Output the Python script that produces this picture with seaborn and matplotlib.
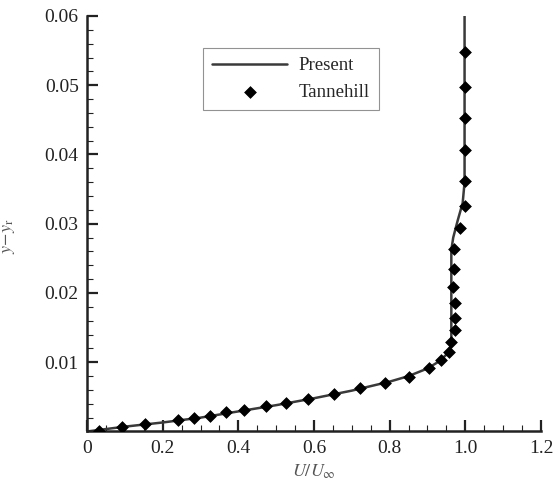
import numpy as np
import pandas as pd
import matplotlib
matplotlib.use('Agg')
import matplotlib.pyplot as plt
import seaborn as sns
from matplotlib.ticker import MultipleLocator, FixedLocator

# Present (solid line)
present_u = [0.0, 0.1, 0.2, 0.3, 0.4, 0.5, 0.6, 0.7, 0.8, 0.85, 0.9, 0.93,
             0.95, 0.96, 0.963, 0.963, 0.963, 0.968, 0.98, 0.993, 0.998, 0.998, 0.998]
present_y = [0.0, 0.0007, 0.0013, 0.0020, 0.0029, 0.0038, 0.0048, 0.0059, 0.0072,
             0.0080, 0.0091, 0.0101, 0.0111, 0.0121, 0.0135, 0.0200, 0.0262,
             0.0280, 0.0305, 0.0330, 0.0360, 0.0450, 0.0600]

# Tannehill (diamonds)
tann_u = [0.032, 0.093, 0.154, 0.241, 0.283, 0.326, 0.368, 0.416, 0.474, 0.525,
          0.585, 0.652, 0.721, 0.787, 0.850, 0.903, 0.935, 0.956, 0.962, 0.972,
          0.972, 0.972, 0.967, 0.970, 0.970, 0.985, 0.999, 0.999, 0.999, 0.999,
          0.999, 0.999]
tann_y = [0.0001, 0.00065, 0.0011, 0.0017, 0.0019, 0.0022, 0.0028, 0.0031, 0.0037,
          0.0041, 0.0047, 0.0054, 0.0063, 0.0070, 0.0079, 0.0092, 0.0103, 0.0115,
          0.0129, 0.0147, 0.0164, 0.0186, 0.0209, 0.0234, 0.0264, 0.0294, 0.0326,
          0.0362, 0.0406, 0.0452, 0.0497, 0.0548]

present = pd.DataFrame({'u': present_u, 'y': present_y})
tann = pd.DataFrame({'u': tann_u, 'y': tann_y})

sns.set_style('ticks')
plt.rcParams['font.family'] = ['Liberation Serif', 'DejaVu Serif']
plt.rcParams['mathtext.fontset'] = 'stix'

fig = plt.figure(figsize=(5.58, 4.84), dpi=100)
ax = fig.add_axes([0.156, 0.1085, 0.8135, 0.8585])

sns.lineplot(data=present, x='u', y='y', sort=False, estimator=None, color='#3a3a3a',
             linewidth=1.8, ax=ax, label='Present')
sns.scatterplot(data=tann, x='u', y='y', marker='D', color='black', s=36,
                edgecolor='black', linewidth=0.5, ax=ax, label='Tannehill', zorder=3)

ax.set_xlim(0, 1.2)
ax.set_ylim(0, 0.06)
ax.xaxis.set_major_locator(FixedLocator([0, 0.2, 0.4, 0.6, 0.8, 1.0, 1.2]))
ax.set_xticklabels(['0', '0.2', '0.4', '0.6', '0.8', '1.0', '1.2'])
ax.xaxis.set_minor_locator(MultipleLocator(0.05))
ax.yaxis.set_major_locator(FixedLocator([0.01, 0.02, 0.03, 0.04, 0.05, 0.06]))
ax.set_yticklabels(['0.01', '0.02', '0.03', '0.04', '0.05', '0.06'])
ax.yaxis.set_minor_locator(MultipleLocator(0.002))

ax.tick_params(which='major', direction='in', length=8, width=1.6, labelsize=14,
               colors='#222222', pad=6)
ax.tick_params(which='minor', direction='in', length=4, width=0.8, colors='#222222')

for s in ['top', 'right']:
    ax.spines[s].set_visible(False)
for s in ['left', 'bottom']:
    ax.spines[s].set_linewidth(1.8)
    ax.spines[s].set_color('#222222')

ax.set_xlabel('$U/U_{\\infty}$', fontsize=13, color='#555555', labelpad=4)
ax.set_ylabel('$y\\!-\\!y_{\\mathrm{r}}$', fontsize=13, color='#555555', labelpad=10)
ax.yaxis.set_label_coords(-0.155, 0.47)

leg = ax.legend(loc='upper left', bbox_to_anchor=(0.255, 0.923), fontsize=13.5,
                frameon=True, fancybox=False, edgecolor='#777777', handlelength=4.0,
                borderpad=0.5, labelspacing=0.5, handletextpad=0.6, borderaxespad=0)
leg.get_frame().set_linewidth(0.8)

fig.savefig('out.png', dpi=100)
